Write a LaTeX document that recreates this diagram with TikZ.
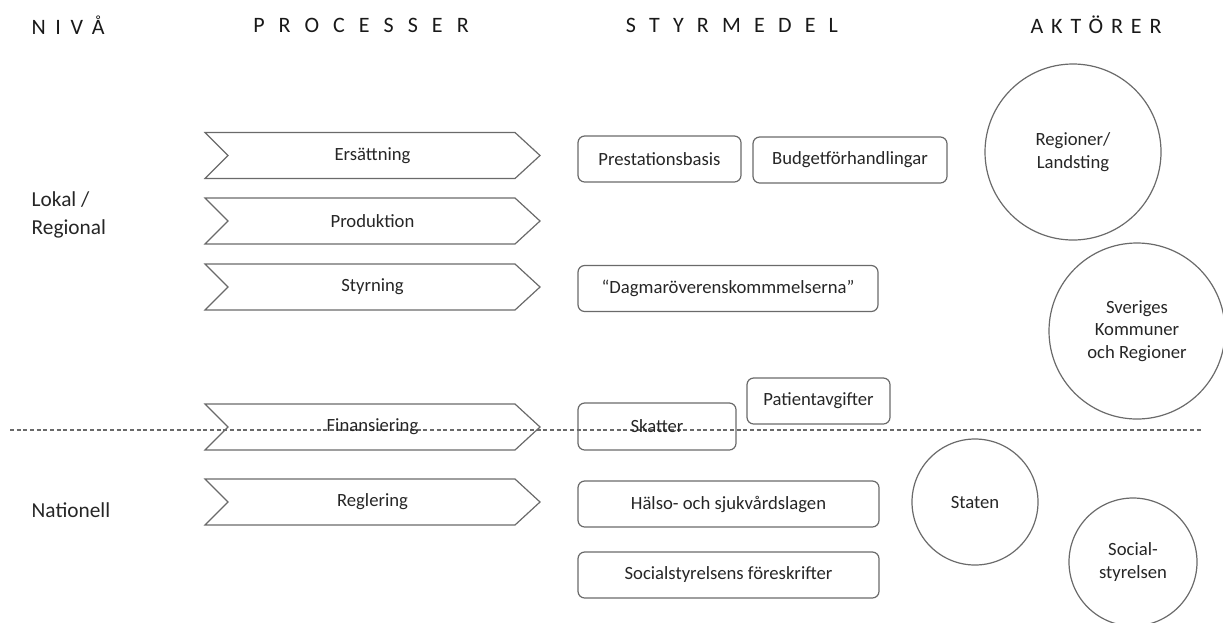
\documentclass[tikz,border=0pt]{standalone}
\usepackage{fontspec}
\setmainfont{Carlito}
\newfontfamily\headA[LetterSpace=44]{Carlito}
\newfontfamily\headB[LetterSpace=64]{Carlito}
\newfontfamily\headC[LetterSpace=60]{Carlito}
\newfontfamily\headD[LetterSpace=36]{Carlito}
\definecolor{linegray}{HTML}{6A6A6A}
\definecolor{txtgray}{HTML}{262626}
\begin{document}
\begin{tikzpicture}[x=0.75pt,y=-0.75pt,
  every node/.style={text=txtgray,font=\fontsize{14}{17}\selectfont},
  head/.style={text=black!90},
  level/.style={font=\fontsize{16}{21}\selectfont,align=left,anchor=west},
  chevtext/.style={inner sep=0pt,outer sep=0pt,minimum width=251.25pt,minimum height=34.5pt},
  chevline/.style={draw=linegray,line width=0.9pt,line join=miter},
  boxnode/.style={draw=linegray,line width=0.9pt,rounded corners=5pt,inner sep=0pt,minimum height=34.5pt},
  actor/.style={draw=linegray,line width=0.9pt,circle,inner sep=0pt,align=center},
  divider/.style={draw=linegray,line width=0.8pt,dash pattern=on 3pt off 2pt}
]
\useasboundingbox (0,0) rectangle (1223,622);
% headers
\node[head,font=\fontsize{16.5}{19}\headA] (hniva) at (68,25) {NIVÅ};
\node[head,font=\fontsize{16.5}{19}\headB] (hproc) at (361,25) {PROCESSER};
\node[head,font=\fontsize{16.5}{19}\headC] (hstyr) at (732,25) {STYRMEDEL};
\node[head,font=\fontsize{16.5}{19}\headD] (hakt) at (1096,25) {AKTÖRER};
% levels
\node[level] (lokal) at (27,215) {Lokal /\\Regional};
\node[level] (nat) at (27,510) {Nationell};
% divider
\coordinate (dl) at (10,430);
\coordinate (dr) at (1203,430);
\draw[divider] (dl) -- (dr);
% chevrons
\node[chevtext] (ers) at (372.5,155.5) {Ersättning};
\node[chevtext] (prod) at (372.5,221) {Produktion};
\node[chevtext] (styr) at (372.5,287) {Styrning};
\node[chevtext] (fin) at (372.5,427) {Finansiering};
\node[chevtext] (reg) at (372.5,502) {Reglering};
\foreach \n in {ers,prod,styr,fin,reg}
  \draw[chevline] (\n.north west) -- ([xshift=-18.75pt]\n.north east) -- (\n.east)
    -- ([xshift=-18.75pt]\n.south east) -- (\n.south west) -- ([xshift=17.25pt]\n.west) -- cycle;
% styrmedel boxes
\node[boxnode,minimum width=122.25pt] (pres) at (659.5,159) {Prestationsbasis};
\node[boxnode,minimum width=145.5pt] (budg) at (850,160) {Budgetförhandlingar};
\node[boxnode,minimum width=225pt] (dag) at (728,288.5) {“Dagmaröverenskommmelserna”};
\node[boxnode,minimum width=107.25pt] (pat) at (818.5,401) {Patientavgifter};
\node[boxnode,minimum width=118.5pt,minimum height=35.25pt] (skat) at (657,426.5) {Skatter};
\node[boxnode,minimum width=225.75pt] (hal) at (728.5,504) {Hälso- och sjukvårdslagen};
\node[boxnode,minimum width=225.75pt] (socf) at (728.5,575) {Socialstyrelsens föreskrifter};
% actors
\node[actor,minimum size=132pt] (regl) at (1073,152) {Regioner/\\Landsting};
\node[actor,minimum size=132pt] (skr) at (1137,331) {Sveriges\\Kommuner\\och Regioner};
\node[actor,minimum size=94.5pt] (stat) at (975,502) {Staten};
\node[actor,minimum size=96pt] (socs) at (1133,562) {Social-\\styrelsen};
\end{tikzpicture}
\end{document}
